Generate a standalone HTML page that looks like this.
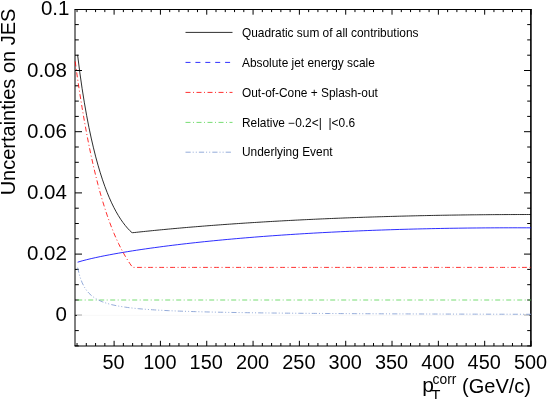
<!DOCTYPE html>
<html><head><meta charset="utf-8"><title>JES</title><style>html,body{margin:0;padding:0;background:#fff}</style></head><body>
<svg width="548" height="399" viewBox="0 0 548 399" style="display:block;will-change:transform" font-family="Liberation Sans, sans-serif">
<rect width="548" height="399" fill="#fff"/>
<g stroke="#000" stroke-width="1" fill="none">
<path d="M74.5,9.5 H531.5"/>
<path d="M74.5,346.0 H531.5"/>
<path d="M75.0,9.5 V346.0"/>
<path d="M530.9,9.0 V346.5" stroke-width="1.6"/>
<path d="M77.04,346.0 v-3.0 M77.04,9.5 v2.6 M86.31,346.0 v-3.0 M86.31,9.5 v2.6 M95.57,346.0 v-3.0 M95.57,9.5 v2.6 M104.84,346.0 v-3.0 M104.84,9.5 v2.6 M114.10,346.0 v-5.2 M114.10,9.5 v5.2 M123.36,346.0 v-3.0 M123.36,9.5 v2.6 M132.63,346.0 v-3.0 M132.63,9.5 v2.6 M141.89,346.0 v-3.0 M141.89,9.5 v2.6 M151.16,346.0 v-3.0 M151.16,9.5 v2.6 M160.42,346.0 v-5.2 M160.42,9.5 v5.2 M169.69,346.0 v-3.0 M169.69,9.5 v2.6 M178.95,346.0 v-3.0 M178.95,9.5 v2.6 M188.22,346.0 v-3.0 M188.22,9.5 v2.6 M197.48,346.0 v-3.0 M197.48,9.5 v2.6 M206.74,346.0 v-5.2 M206.74,9.5 v5.2 M216.01,346.0 v-3.0 M216.01,9.5 v2.6 M225.27,346.0 v-3.0 M225.27,9.5 v2.6 M234.54,346.0 v-3.0 M234.54,9.5 v2.6 M243.80,346.0 v-3.0 M243.80,9.5 v2.6 M253.07,346.0 v-5.2 M253.07,9.5 v5.2 M262.33,346.0 v-3.0 M262.33,9.5 v2.6 M271.60,346.0 v-3.0 M271.60,9.5 v2.6 M280.86,346.0 v-3.0 M280.86,9.5 v2.6 M290.12,346.0 v-3.0 M290.12,9.5 v2.6 M299.39,346.0 v-5.2 M299.39,9.5 v5.2 M308.65,346.0 v-3.0 M308.65,9.5 v2.6 M317.92,346.0 v-3.0 M317.92,9.5 v2.6 M327.18,346.0 v-3.0 M327.18,9.5 v2.6 M336.45,346.0 v-3.0 M336.45,9.5 v2.6 M345.71,346.0 v-5.2 M345.71,9.5 v5.2 M354.98,346.0 v-3.0 M354.98,9.5 v2.6 M364.24,346.0 v-3.0 M364.24,9.5 v2.6 M373.50,346.0 v-3.0 M373.50,9.5 v2.6 M382.77,346.0 v-3.0 M382.77,9.5 v2.6 M392.03,346.0 v-5.2 M392.03,9.5 v5.2 M401.30,346.0 v-3.0 M401.30,9.5 v2.6 M410.56,346.0 v-3.0 M410.56,9.5 v2.6 M419.83,346.0 v-3.0 M419.83,9.5 v2.6 M429.09,346.0 v-3.0 M429.09,9.5 v2.6 M438.36,346.0 v-5.2 M438.36,9.5 v5.2 M447.62,346.0 v-3.0 M447.62,9.5 v2.6 M456.88,346.0 v-3.0 M456.88,9.5 v2.6 M466.15,346.0 v-3.0 M466.15,9.5 v2.6 M475.41,346.0 v-3.0 M475.41,9.5 v2.6 M484.68,346.0 v-5.2 M484.68,9.5 v5.2 M493.94,346.0 v-3.0 M493.94,9.5 v2.6 M503.21,346.0 v-3.0 M503.21,9.5 v2.6 M512.47,346.0 v-3.0 M512.47,9.5 v2.6 M521.74,346.0 v-3.0 M521.74,9.5 v2.6 M531.00,346.0 v-5.2 M531.00,9.5 v5.2 M75.0,345.90 h3.8 M531.0,345.90 h-3.8 M75.0,330.60 h3.8 M531.0,330.60 h-3.8 M75.0,315.30 h7.0 M531.0,315.30 h-7.0 M75.0,300.00 h3.8 M531.0,300.00 h-3.8 M75.0,284.70 h3.8 M531.0,284.70 h-3.8 M75.0,269.40 h3.8 M531.0,269.40 h-3.8 M75.0,254.10 h7.0 M531.0,254.10 h-7.0 M75.0,238.80 h3.8 M531.0,238.80 h-3.8 M75.0,223.50 h3.8 M531.0,223.50 h-3.8 M75.0,208.20 h3.8 M531.0,208.20 h-3.8 M75.0,192.90 h7.0 M531.0,192.90 h-7.0 M75.0,177.60 h3.8 M531.0,177.60 h-3.8 M75.0,162.30 h3.8 M531.0,162.30 h-3.8 M75.0,147.00 h3.8 M531.0,147.00 h-3.8 M75.0,131.70 h7.0 M531.0,131.70 h-7.0 M75.0,116.40 h3.8 M531.0,116.40 h-3.8 M75.0,101.10 h3.8 M531.0,101.10 h-3.8 M75.0,85.80 h3.8 M531.0,85.80 h-3.8 M75.0,70.50 h7.0 M531.0,70.50 h-7.0 M75.0,55.20 h3.8 M531.0,55.20 h-3.8 M75.0,39.90 h3.8 M531.0,39.90 h-3.8 M75.0,24.60 h3.8 M531.0,24.60 h-3.8"/>
</g>
<g fill="none" stroke-width="1" stroke-opacity="0.82">
<path d="M77,315.30 H529.6" stroke="#f8f8f8" stroke-opacity="1"/>
<path d="M77.60,54.85 L79.87,72.88 L82.13,88.69 L84.40,102.85 L86.67,115.67 L88.93,127.36 L91.20,138.05 L93.47,147.86 L95.73,156.88 L98.00,165.17 L100.27,172.81 L102.54,179.84 L104.80,186.32 L107.07,192.28 L109.34,197.78 L111.60,202.83 L113.87,207.48 L116.14,211.74 L118.40,215.64 L120.67,219.22 L122.94,222.47 L125.21,225.44 L127.47,228.13 L129.74,230.55 L132.01,232.68 L132.63,232.68 L134.27,232.55 L136.54,232.30 L138.81,232.06 L141.07,231.81 L143.34,231.58 L145.61,231.34 L147.88,231.11 L150.14,230.88 L152.41,230.65 L154.68,230.42 L156.94,230.20 L159.21,229.98 L161.48,229.76 L163.74,229.55 L166.01,229.33 L168.28,229.12 L170.55,228.91 L172.81,228.70 L175.08,228.50 L177.35,228.30 L179.61,228.10 L181.88,227.90 L184.15,227.70 L186.41,227.50 L188.68,227.31 L190.95,227.12 L193.22,226.93 L195.48,226.75 L197.75,226.56 L200.02,226.38 L202.28,226.20 L204.55,226.02 L206.82,225.84 L209.08,225.66 L211.35,225.49 L213.62,225.32 L215.89,225.15 L218.15,224.98 L220.42,224.81 L222.69,224.64 L224.95,224.48 L227.22,224.32 L229.49,224.16 L231.75,224.00 L234.02,223.84 L236.29,223.69 L238.56,223.53 L240.82,223.38 L243.09,223.23 L245.36,223.08 L247.62,222.93 L249.89,222.79 L252.16,222.64 L254.42,222.50 L256.69,222.36 L258.96,222.22 L261.23,222.08 L263.49,221.95 L265.76,221.81 L268.03,221.68 L270.29,221.54 L272.56,221.41 L274.83,221.28 L277.09,221.16 L279.36,221.03 L281.63,220.91 L283.90,220.78 L286.16,220.66 L288.43,220.54 L290.70,220.42 L292.96,220.30 L295.23,220.18 L297.50,220.07 L299.77,219.96 L302.03,219.84 L304.30,219.73 L306.57,219.62 L308.83,219.51 L311.10,219.41 L313.37,219.30 L315.63,219.20 L317.90,219.09 L320.17,218.99 L322.44,218.89 L324.70,218.79 L326.97,218.69 L329.24,218.59 L331.50,218.50 L333.77,218.40 L336.04,218.31 L338.30,218.22 L340.57,218.13 L342.84,218.04 L345.11,217.95 L347.37,217.87 L349.64,217.78 L351.91,217.70 L354.17,217.61 L356.44,217.53 L358.71,217.45 L360.97,217.37 L363.24,217.29 L365.51,217.21 L367.78,217.14 L370.04,217.06 L372.31,216.99 L374.58,216.92 L376.84,216.85 L379.11,216.78 L381.38,216.71 L383.64,216.64 L385.91,216.57 L388.18,216.51 L390.45,216.44 L392.71,216.38 L394.98,216.32 L397.25,216.25 L399.51,216.19 L401.78,216.14 L404.05,216.08 L406.31,216.02 L408.58,215.97 L410.85,215.91 L413.12,215.86 L415.38,215.81 L417.65,215.76 L419.92,215.70 L422.18,215.66 L424.45,215.61 L426.72,215.56 L428.98,215.52 L431.25,215.47 L433.52,215.43 L435.79,215.38 L438.05,215.34 L440.32,215.30 L442.59,215.26 L444.85,215.22 L447.12,215.19 L449.39,215.15 L451.65,215.12 L453.92,215.08 L456.19,215.05 L458.46,215.02 L460.72,214.99 L462.99,214.95 L465.26,214.93 L467.52,214.90 L469.79,214.87 L472.06,214.84 L474.32,214.82 L476.59,214.80 L478.86,214.77 L481.13,214.75 L483.39,214.73 L485.66,214.71 L487.93,214.69 L490.19,214.67 L492.46,214.65 L494.73,214.64 L496.99,214.62 L499.26,214.61 L501.53,214.60 L503.80,214.58 L506.06,214.57 L508.33,214.56 L510.60,214.55 L512.86,214.54 L515.13,214.54 L517.40,214.53 L519.66,214.52 L521.93,214.52 L524.20,214.52 L526.47,214.51 L528.73,214.51 L531.00,214.51" stroke="#000"/>
<path d="M77.60,262.19 L82.13,260.87 L86.67,259.69 L91.20,258.60 L95.73,257.58 L100.27,256.62 L104.80,255.70 L109.34,254.83 L113.87,253.99 L118.40,253.19 L122.94,252.41 L127.47,251.66 L132.01,250.93 L132.63,250.83 L136.54,250.23 L141.07,249.54 L145.61,248.88 L150.14,248.23 L154.68,247.61 L159.21,247.00 L163.74,246.40 L168.28,245.82 L172.81,245.26 L177.35,244.71 L181.88,244.17 L186.41,243.65 L190.95,243.14 L195.48,242.64 L200.02,242.15 L204.55,241.67 L209.08,241.21 L213.62,240.76 L218.15,240.32 L222.69,239.88 L227.22,239.46 L231.75,239.05 L236.29,238.65 L240.82,238.26 L245.36,237.87 L249.89,237.50 L254.42,237.13 L258.96,236.78 L263.49,236.43 L268.03,236.09 L272.56,235.76 L277.09,235.44 L281.63,235.12 L286.16,234.82 L290.70,234.52 L295.23,234.23 L299.77,233.94 L304.30,233.67 L308.83,233.40 L313.37,233.14 L317.90,232.88 L322.44,232.64 L326.97,232.40 L331.50,232.17 L336.04,231.94 L340.57,231.72 L345.11,231.51 L349.64,231.30 L354.17,231.10 L358.71,230.91 L363.24,230.72 L367.78,230.54 L372.31,230.37 L376.84,230.20 L381.38,230.04 L385.91,229.88 L390.45,229.73 L394.98,229.59 L399.51,229.45 L404.05,229.32 L408.58,229.19 L413.12,229.07 L417.65,228.96 L422.18,228.85 L426.72,228.75 L431.25,228.65 L435.79,228.56 L440.32,228.47 L444.85,228.39 L449.39,228.31 L453.92,228.24 L458.46,228.18 L462.99,228.12 L467.52,228.06 L472.06,228.01 L476.59,227.97 L481.13,227.93 L485.66,227.89 L490.19,227.86 L494.73,227.84 L499.26,227.82 L503.80,227.81 L508.33,227.80 L512.86,227.79 L517.40,227.79 L521.93,227.80 L526.47,227.81 L531.00,227.82" stroke="#0000ff"/>
<path d="M75.19,61.45 L77.47,78.01 L79.75,93.16 L82.03,107.34 L84.31,120.64 L86.58,133.12 L88.86,144.82 L91.14,155.77 L93.42,166.03 L95.70,175.62 L97.98,184.60 L100.26,193.01 L102.54,200.87 L104.82,208.23 L107.10,215.12 L109.38,221.56 L111.65,227.59 L113.93,233.24 L116.21,238.51 L118.49,243.44 L120.77,248.04 L123.05,252.34 L125.33,256.35 L127.61,260.09 L129.89,263.57 L132.17,266.80 L132.63,267.40 L134.44,267.40 L136.72,267.40 L139.00,267.40 L141.28,267.40 L143.56,267.40 L145.84,267.40 L148.12,267.40 L150.40,267.40 L152.68,267.40 L154.96,267.40 L157.24,267.40 L159.51,267.40 L161.79,267.40 L164.07,267.40 L166.35,267.40 L168.63,267.40 L170.91,267.40 L173.19,267.40 L175.47,267.40 L177.75,267.40 L180.03,267.40 L182.30,267.40 L184.58,267.40 L186.86,267.40 L189.14,267.40 L191.42,267.40 L193.70,267.40 L195.98,267.40 L198.26,267.40 L200.54,267.40 L202.82,267.40 L205.10,267.40 L207.37,267.40 L209.65,267.40 L211.93,267.40 L214.21,267.40 L216.49,267.40 L218.77,267.40 L221.05,267.40 L223.33,267.40 L225.61,267.40 L227.89,267.40 L230.16,267.40 L232.44,267.40 L234.72,267.40 L237.00,267.40 L239.28,267.40 L241.56,267.40 L243.84,267.40 L246.12,267.40 L248.40,267.40 L250.68,267.40 L252.96,267.40 L255.23,267.40 L257.51,267.40 L259.79,267.40 L262.07,267.40 L264.35,267.40 L266.63,267.40 L268.91,267.40 L271.19,267.40 L273.47,267.40 L275.75,267.40 L278.03,267.40 L280.30,267.40 L282.58,267.40 L284.86,267.40 L287.14,267.40 L289.42,267.40 L291.70,267.40 L293.98,267.40 L296.26,267.40 L298.54,267.40 L300.82,267.40 L303.09,267.40 L305.37,267.40 L307.65,267.40 L309.93,267.40 L312.21,267.40 L314.49,267.40 L316.77,267.40 L319.05,267.40 L321.33,267.40 L323.61,267.40 L325.89,267.40 L328.16,267.40 L330.44,267.40 L332.72,267.40 L335.00,267.40 L337.28,267.40 L339.56,267.40 L341.84,267.40 L344.12,267.40 L346.40,267.40 L348.68,267.40 L350.95,267.40 L353.23,267.40 L355.51,267.40 L357.79,267.40 L360.07,267.40 L362.35,267.40 L364.63,267.40 L366.91,267.40 L369.19,267.40 L371.47,267.40 L373.75,267.40 L376.02,267.40 L378.30,267.40 L380.58,267.40 L382.86,267.40 L385.14,267.40 L387.42,267.40 L389.70,267.40 L391.98,267.40 L394.26,267.40 L396.54,267.40 L398.81,267.40 L401.09,267.40 L403.37,267.40 L405.65,267.40 L407.93,267.40 L410.21,267.40 L412.49,267.40 L414.77,267.40 L417.05,267.40 L419.33,267.40 L421.61,267.40 L423.88,267.40 L426.16,267.40 L428.44,267.40 L430.72,267.40 L433.00,267.40 L435.28,267.40 L437.56,267.40 L439.84,267.40 L442.12,267.40 L444.40,267.40 L446.68,267.40 L448.95,267.40 L451.23,267.40 L453.51,267.40 L455.79,267.40 L458.07,267.40 L460.35,267.40 L462.63,267.40 L464.91,267.40 L467.19,267.40 L469.47,267.40 L471.74,267.40 L474.02,267.40 L476.30,267.40 L478.58,267.40 L480.86,267.40 L483.14,267.40 L485.42,267.40 L487.70,267.40 L489.98,267.40 L492.26,267.40 L494.54,267.40 L496.81,267.40 L499.09,267.40 L501.37,267.40 L503.65,267.40 L505.93,267.40 L508.21,267.40 L510.49,267.40 L512.77,267.40 L515.05,267.40 L517.33,267.40 L519.60,267.40 L521.88,267.40 L524.16,267.40 L526.44,267.40 L528.72,267.40 L531.00,267.40" stroke="#ff0000" stroke-dasharray="5 2.5 1 2.5"/>
<path d="M77.20,300.00 H531.00" stroke="#59d454" stroke-dasharray="5 2.5 1 2.5"/>
<path d="M77.60,267.67 L79.87,276.60 L82.13,282.71 L84.40,287.16 L86.67,290.54 L88.93,293.19 L91.20,295.33 L93.47,297.09 L95.73,298.57 L98.00,299.82 L100.27,300.90 L102.54,301.84 L104.80,302.67 L107.07,303.40 L109.34,304.04 L111.60,304.63 L113.87,305.15 L116.14,305.63 L118.40,306.06 L120.67,306.46 L122.94,306.82 L125.21,307.15 L127.47,307.46 L129.74,307.75 L132.01,308.02 L132.63,308.09 L134.27,308.27 L136.54,308.50 L138.81,308.71 L141.07,308.92 L143.34,309.11 L145.61,309.29 L147.88,309.46 L150.14,309.62 L152.41,309.77 L154.68,309.92 L156.94,310.05 L159.21,310.18 L161.48,310.31 L163.74,310.43 L166.01,310.54 L168.28,310.65 L170.55,310.75 L172.81,310.85 L175.08,310.94 L177.35,311.03 L179.61,311.12 L181.88,311.20 L184.15,311.28 L186.41,311.36 L188.68,311.43 L190.95,311.50 L193.22,311.57 L195.48,311.64 L197.75,311.70 L200.02,311.76 L202.28,311.82 L204.55,311.88 L206.82,311.94 L209.08,311.99 L211.35,312.04 L213.62,312.09 L215.89,312.14 L218.15,312.19 L220.42,312.24 L222.69,312.28 L224.95,312.32 L227.22,312.37 L229.49,312.41 L231.75,312.45 L234.02,312.49 L236.29,312.52 L238.56,312.56 L240.82,312.60 L243.09,312.63 L245.36,312.67 L247.62,312.70 L249.89,312.73 L252.16,312.76 L254.42,312.79 L256.69,312.82 L258.96,312.85 L261.23,312.88 L263.49,312.91 L265.76,312.94 L268.03,312.96 L270.29,312.99 L272.56,313.02 L274.83,313.04 L277.09,313.07 L279.36,313.09 L281.63,313.11 L283.90,313.14 L286.16,313.16 L288.43,313.18 L290.70,313.20 L292.96,313.22 L295.23,313.24 L297.50,313.26 L299.77,313.28 L302.03,313.30 L304.30,313.32 L306.57,313.34 L308.83,313.36 L311.10,313.38 L313.37,313.40 L315.63,313.41 L317.90,313.43 L320.17,313.45 L322.44,313.46 L324.70,313.48 L326.97,313.50 L329.24,313.51 L331.50,313.53 L333.77,313.54 L336.04,313.56 L338.30,313.57 L340.57,313.59 L342.84,313.60 L345.11,313.61 L347.37,313.63 L349.64,313.64 L351.91,313.65 L354.17,313.67 L356.44,313.68 L358.71,313.69 L360.97,313.70 L363.24,313.72 L365.51,313.73 L367.78,313.74 L370.04,313.75 L372.31,313.76 L374.58,313.78 L376.84,313.79 L379.11,313.80 L381.38,313.81 L383.64,313.82 L385.91,313.83 L388.18,313.84 L390.45,313.85 L392.71,313.86 L394.98,313.87 L397.25,313.88 L399.51,313.89 L401.78,313.90 L404.05,313.91 L406.31,313.92 L408.58,313.93 L410.85,313.94 L413.12,313.95 L415.38,313.95 L417.65,313.96 L419.92,313.97 L422.18,313.98 L424.45,313.99 L426.72,314.00 L428.98,314.01 L431.25,314.01 L433.52,314.02 L435.79,314.03 L438.05,314.04 L440.32,314.04 L442.59,314.05 L444.85,314.06 L447.12,314.07 L449.39,314.07 L451.65,314.08 L453.92,314.09 L456.19,314.10 L458.46,314.10 L460.72,314.11 L462.99,314.12 L465.26,314.12 L467.52,314.13 L469.79,314.14 L472.06,314.14 L474.32,314.15 L476.59,314.16 L478.86,314.16 L481.13,314.17 L483.39,314.17 L485.66,314.18 L487.93,314.19 L490.19,314.19 L492.46,314.20 L494.73,314.20 L496.99,314.21 L499.26,314.22 L501.53,314.22 L503.80,314.23 L506.06,314.23 L508.33,314.24 L510.60,314.24 L512.86,314.25 L515.13,314.25 L517.40,314.26 L519.66,314.26 L521.93,314.27 L524.20,314.28 L526.47,314.28 L528.73,314.29 L531.00,314.29" stroke="#7d99d1" stroke-dasharray="5.2 2 1 2.1 1 2.1"/>
</g>
<g font-size="20.5px" fill="#000" text-anchor="end">
<text x="69.4" y="15.0">0.1</text>
<text x="66.9" y="76.5">0.08</text>
<text x="66.9" y="137.7">0.06</text>
<text x="66.9" y="198.9">0.04</text>
<text x="66.9" y="260.1">0.02</text>
<text x="66.9" y="321.3">0</text>
</g>
<g font-size="19.9px" fill="#000" text-anchor="middle">
<text x="113.6" y="369.0">50</text>
<text x="159.9" y="369.0">100</text>
<text x="206.2" y="369.0">150</text>
<text x="252.6" y="369.0">200</text>
<text x="298.9" y="369.0">250</text>
<text x="345.2" y="369.0">300</text>
<text x="391.5" y="369.0">350</text>
<text x="437.9" y="369.0">400</text>
<text x="484.2" y="369.0">450</text>
<text x="530.5" y="369.0">500</text>
</g>
<text transform="translate(15.0,8.6) rotate(-90)" text-anchor="end" font-size="20px">Uncertainties on JES</text>
<text x="422.3" y="392.4" font-size="21px">p</text>
<text x="432.6" y="384.2" font-size="13.8px">corr</text>
<text x="431.3" y="400.2" font-size="15px">T</text>
<text x="531" y="392.5" font-size="20px" text-anchor="end">(GeV/c)</text>
<g fill="none" stroke-width="1" stroke-opacity="0.82">
<path d="M185.5,32.4 H232.5" stroke="#000"/>
<path d="M185.5,62.4 H232.5" stroke="#0000ff" stroke-dasharray="5 4.9"/>
<path d="M185.5,92.4 H232.5" stroke="#ff0000" stroke-dasharray="5 2.5 1 2.5"/>
<path d="M185.5,122.4 H232.5" stroke="#59d454" stroke-dasharray="5 2.5 1 2.5"/>
<path d="M185.5,152.2 H232.5" stroke="#7d99d1" stroke-dasharray="5.2 2 1 2.1 1 2.1"/>
</g>
<g font-size="11.9px" fill="#000">
<text x="242" y="36.6">Quadratic sum of all contributions</text>
<text x="242" y="66.8">Absolute jet energy scale</text>
<text x="242" y="97">Out-of-Cone + Splash-out</text>
<text x="242" y="126.6">Relative −0.2&lt;|</text><text x="328.5" y="126.6">|&lt;0.6</text>
<text x="242" y="156.4">Underlying Event</text>
</g>
</svg>
</body></html>
